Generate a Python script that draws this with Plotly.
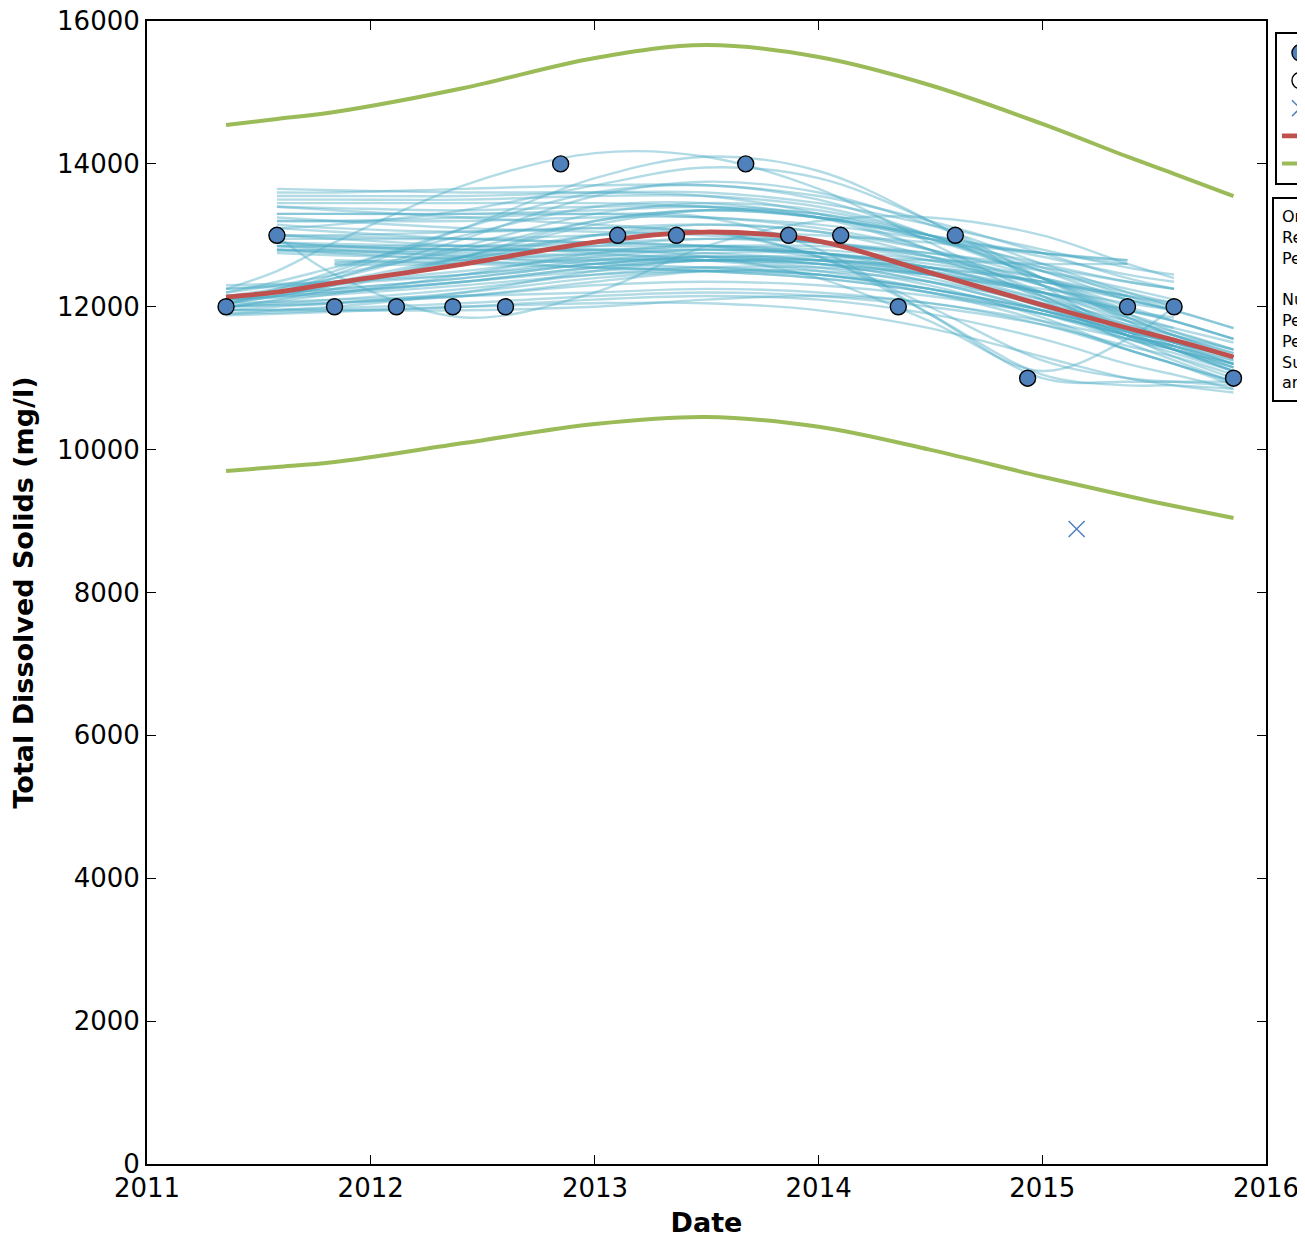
import plotly.graph_objects as go

# ---------------- data ----------------
obs_dates = ["2011-05-10", "2011-08-01", "2011-11-03", "2012-02-12", "2012-05-14",
             "2012-08-08", "2012-11-06", "2013-02-07", "2013-05-14", "2013-09-04",
             "2013-11-13", "2014-02-06", "2014-05-11", "2014-08-12", "2014-12-08",
             "2015-05-20", "2015-08-04", "2015-11-09"]
obs_values = [12000, 13000, 12000, 12000, 12000, 12000, 14000, 13000, 13000, 14000,
              13000, 13000, 12000, 13000, 11000, 12000, 12000, 11000]

outlier_dates = ["2015-02-26"]
outlier_values = [8890]

grid_dates = ["2011-05-10", "2011-08-01", "2011-11-03", "2012-06-01", "2013-01-01",
              "2013-07-01", "2014-01-01", "2014-07-01", "2015-01-01", "2015-05-20",
              "2015-08-04", "2015-11-09"]

regression = [12136, 12206, 12332, 12598, 12906, 13046, 12920, 12480, 12024, 11702, 11534, 11296]
upper_pi = [14544, 14628, 14726, 15062, 15482, 15664, 15496, 15104, 14560, 14100, 13860, 13550]
lower_pi = [9700, 9756, 9826, 10092, 10358, 10456, 10320, 10000, 9620, 9350, 9210, 9043]

N = None
bootstrap_curves = [
    [11950, 11960, 11980, 12050, 12150, 12200, 12150, 12000, 11750, 11450, 11300, 11050],
    [12000, 12030, 12060, 12150, 12300, 12350, 12300, 12150, 11900, 11600, 11450, 11200],
    [12100, 12130, 12170, 12300, 12450, 12500, 12450, 12250, 11950, 11650, 11500, 11250],
    [12150, 12200, 12250, 12400, 12600, 12700, 12650, 12450, 12100, 11800, 11650, 11400],
    [11880, 11900, 11930, 12000, 12100, 12150, 12100, 11900, 11550, 11200, 11050, 10850],
    [12250, 12300, 12350, 12500, 12700, 12800, 12750, 12550, 12200, 11850, 11700, 11500],
    [12050, 12150, 12300, 12650, 13000, 13150, 13050, 12700, 12150, 11650, 11400, 11100],
    [12200, 12350, 12550, 13000, 13400, 13450, 13250, 12800, 12200, 11700, 11450, 11150],
    [12250, 12500, 12900, 13700, 14150, 14100, 13650, 12900, 12150, 11650, 11400, 11100],
    [11950, 11950, 11950, 11950, 12000, 12100, 12150, 12050, 11750, 11400, 11200, 10950],
    [12300, 12320, 12350, 12450, 12600, 12650, 12600, 12450, 12200, 11950, 11800, 11550],
    [12000, 12050, 12100, 12250, 12450, 12550, 12550, 12450, 12250, 12050, 11950, N],
    [12100, 12150, 12200, 12350, 12550, 12650, 12650, 12550, 12350, 12150, 12050, N],
    [11900, 11950, 12000, 12200, 12500, 12650, 12600, 12350, 11950, 11600, 11450, N],
    [12200, 12300, 12450, 12800, 13200, 13350, 13250, 12950, 12500, 12200, 12050, N],
    [12050, 12200, 12400, 12950, 13550, 13750, 13600, 13150, 12600, 12200, 12000, N],
    [12150, 12200, 12250, 12400, 12600, 12700, 12700, 12650, 12600, 12600, N, N],
    [12000, 12100, 12250, 12700, 13200, 13350, 13250, 13000, 12750, 12650, N, N],
    [N, 12800, 12780, 12750, 12720, 12700, 12600, 12350, 11950, 11550, 11350, 11100],
    [N, 12850, 12830, 12800, 12780, 12750, 12650, 12400, 12000, 11600, 11400, 11150],
    [N, 12780, 12760, 12720, 12680, 12650, 12550, 12300, 11850, 11400, 11200, 10900],
    [N, 13000, 12980, 12950, 12900, 12850, 12750, 12500, 12100, 11700, 11500, 11300],
    [N, 13200, 13200, 13200, 13250, 13250, 13100, 12800, 12300, 11850, 11600, 11350],
    [N, 13300, 13300, 13300, 13350, 13400, 13300, 12950, 12400, 11900, 11650, 11400],
    [N, 13500, 13500, 13500, 13550, 13550, 13400, 13000, 12400, 11850, 11600, 11300],
    [N, 13650, 13630, 13600, 13600, 13550, 13300, 12800, 12100, 11500, 11250, 10950],
    [N, 12900, 12850, 12800, 12800, 12800, 12750, 12550, 12200, 11800, 11600, 11350],
    [N, 13100, 13050, 12950, 12900, 12850, 12700, 12450, 12050, 11600, 11400, 11100],
    [N, 12800, 12790, 12780, 12800, 12850, 12850, 12750, 12550, 12350, 12250, N],
    [N, 12850, 12850, 12850, 12900, 12950, 12900, 12750, 12500, 12250, 12100, N],
    [N, 13400, 13380, 13350, 13400, 13400, 13250, 12950, 12600, 12350, 12250, N],
    [N, 12750, 12720, 12680, 12650, 12650, 12600, 12450, 12200, 11950, 11850, N],
    [N, 13550, 13550, 13550, 13600, 13600, 13450, 13150, 12800, 12550, 12450, N],
    [N, 12950, 12950, 12950, 13000, 13050, 13000, 12900, 12750, 12650, N, N],
    [N, 13300, 13300, 13300, 13300, 13250, 13150, 12950, 12750, 12600, N, N],
    [N, 13000, 12450, 11850, 12200, 12850, 13200, 13250, 13000, 12600, 12400, N],
    [N, N, 12600, 12650, 12750, 12800, 12750, 12550, 12150, 11750, 11550, 11300],
    [N, N, 12620, 12700, 12850, 12950, 12900, 12700, 12300, 11900, 11700, N],
    [N, N, 12580, 12600, 12650, 12700, 12650, 12500, 12200, 11900, N, N],
    [12050, 12200, 12450, 13100, 13800, 14100, 13900, 13200, 12300, 11600, 11300, 11000],
    [N, 13100, 13150, 13350, 13700, 13950, 13800, 13200, 12400, 11800, 11500, 11200],
    [N, 13200, 13200, 13250, 13300, 13250, 12800, 11900, 11000, 10950, 10950, 10950],
    [12100, 12200, 12350, 12700, 13000, 13050, 12700, 11900, 11050, 10900, 10900, 10850],
    [N, 12900, 12850, 12800, 12800, 12700, 12400, 11800, 11100, 11550, 12000, N],
    [11900, 11920, 11950, 12000, 12050, 12050, 11950, 11700, 11300, 11000, 10900, 10800],
    [12050, 12070, 12100, 12150, 12200, 12250, 12200, 12050, 11800, 11550, 11400, 11200],
    [N, 13600, 13600, 13650, 13700, 13700, 13550, 13200, 12750, 12400, 12250, N],
    [N, 13450, 13450, 13450, 13450, 13400, 13250, 13000, 12700, 12450, 12350, N],
    [N, 13150, 13100, 13050, 13100, 13150, 13050, 12800, 12400, 12000, 11800, 11550],
    [12100, 12250, 12500, 13100, 13600, 13700, 13500, 13000, 12400, 11950, N, N],
    [12150, 12250, 12400, 12850, 13300, 13450, 13350, 13000, 12500, 12100, 11950, 11700],
    [12000, 12080, 12180, 12450, 12750, 12850, 12750, 12450, 12000, 11600, 11400, 11150],
    [12150, 12180, 12220, 12350, 12500, 12550, 12450, 12200, 11800, 11400, 11200, 10950],
    [N, 12900, 12880, 12850, 12850, 12850, 12800, 12650, 12400, 12150, 12000, N],
    [N, 13000, 12950, 12850, 12750, 12650, 12500, 12250, 11900, 11550, 11400, 11200],
    [N, 12800, 12750, 12650, 12550, 12500, 12400, 12200, 11900, 11600, 11450, 11250],
    [12100, 12150, 12200, 12350, 12550, 12650, 12650, 12550, 12350, 12150, N, N],
    [11950, 12000, 12050, 12200, 12400, 12500, 12450, 12250, 11950, 11650, 11500, 11300],
    [N, 13250, 13200, 13100, 13050, 13000, 12900, 12700, 12400, 12100, 11950, N],
    [12050, 12150, 12300, 12700, 13150, 13350, 13300, 13000, 12550, 12150, 11950, 11700],
    [N, 12850, 12800, 12700, 12600, 12550, 12450, 12250, 11950, 11650, 11500, 11300],
    [N, N, 12650, 12600, 12550, 12500, 12400, 12200, 11900, 11600, 11450, 11200],
    [12250, 12280, 12320, 12450, 12650, 12750, 12750, 12600, 12350, 12100, 11950, N],
    [N, 13400, 13350, 13250, 13150, 13050, 12900, 12650, 12300, 11950, 11800, 11550],
    [12000, 12020, 12050, 12150, 12350, 12500, 12500, 12350, 12050, 11750, 11600, 11400],
    [N, 13000, 13000, 13050, 13100, 13050, 12700, 12000, 11250, 11000, 10950, 10900],
]

year_ticks = ["2011-01-01", "2012-01-01", "2013-01-01", "2014-01-01", "2015-01-01", "2016-01-01"]

legend_labels = ["Data", "Non-detect", "Outlier", "Regression", "Prediction Interval"]

info_lines = ["Original data: 18 samples", "Regression: LOESS", "Period: 2011 - 2015", "",
              "Number of bootstrap samples: 65", "Percent positive slopes: 8%",
              "Percent negative slopes: 92%", "Suggests concentrations",
              "are decreasing"]

# ---------------- styles ----------------
BLUE = "#4f81bd"
RED = "#c0504d"
GREEN = "#9bbb59"
LIGHT = "#4bacc6"
FONT = "DejaVu Sans"

fig = go.Figure()

for vals in bootstrap_curves:
    xs = [d for d, v in zip(grid_dates, vals) if v is not None]
    ys = [v for v in vals if v is not None]
    fig.add_trace(go.Scatter(x=xs, y=ys, mode="lines", showlegend=False,
                             line=dict(color=LIGHT, width=2.4, shape="spline"),
                             opacity=0.42, hoverinfo="skip"))

fig.add_trace(go.Scatter(x=grid_dates, y=regression, mode="lines", name=legend_labels[3],
                         line=dict(color=RED, width=4.8, shape="spline"), legendrank=4))
fig.add_trace(go.Scatter(x=grid_dates, y=upper_pi, mode="lines", name=legend_labels[4],
                         line=dict(color=GREEN, width=4, shape="spline"), legendrank=5))
fig.add_trace(go.Scatter(x=grid_dates, y=lower_pi, mode="lines", showlegend=False,
                         line=dict(color=GREEN, width=4, shape="spline")))
fig.add_trace(go.Scatter(x=obs_dates, y=obs_values, mode="markers", name=legend_labels[0],
                         marker=dict(color=BLUE, size=16, line=dict(color="black", width=1.4)),
                         legendrank=1))
fig.add_trace(go.Scatter(x=[None], y=[None], mode="markers", name=legend_labels[1],
                         marker=dict(color="white", size=16, symbol="circle",
                                     line=dict(color="black", width=1.4)),
                         legendrank=2))
fig.add_trace(go.Scatter(x=outlier_dates, y=outlier_values, mode="markers", name=legend_labels[2],
                         marker=dict(symbol="x-thin-open", size=16,
                                     line=dict(color=BLUE, width=1.5), color=BLUE),
                         legendrank=3))

axis_common = dict(showline=True, linecolor="black", linewidth=2, mirror="allticks",
                   ticks="inside", ticklen=9, tickwidth=1.2, tickcolor="black",
                   showgrid=False, zeroline=False, ticklabeloverflow="allow",
                   tickfont=dict(family=FONT, size=26, color="black"))

fig.update_xaxes(type="date", range=["2011-01-01", "2016-01-01"], tickvals=year_ticks,
                 tickformat="%Y",
                 title=dict(text="<b>Date</b>", font=dict(family=FONT, size=27, color="black"),
                            standoff=18),
                 **axis_common)
fig.update_yaxes(range=[0, 16000], dtick=2000, tickformat="d",
                 title=dict(text="<b>Total Dissolved Solids (mg/l)</b>",
                            font=dict(family=FONT, size=27, color="black"), standoff=18),
                 **axis_common)

fig.add_annotation(xref="paper", yref="paper", x=1.0054, y=0.846, xanchor="left", yanchor="top",
                   text="<br>".join(info_lines), showarrow=False, align="left",
                   font=dict(family=FONT, size=16, color="black"),
                   bordercolor="black", borderwidth=2, borderpad=8, bgcolor="white")

fig.update_layout(
    width=1297, height=1230,
    margin=dict(l=139, r=39, t=13, b=74, autoexpand=False),
    plot_bgcolor="white", paper_bgcolor="white",
    font=dict(family=FONT, color="black"),
    legend=dict(x=1.008, y=0.9904, xanchor="left", yanchor="top",
                bordercolor="black", borderwidth=2, bgcolor="white",
                font=dict(family=FONT, size=19, color="black"),
                itemwidth=36, traceorder="normal"),
)

fig.write_html("out.html")
